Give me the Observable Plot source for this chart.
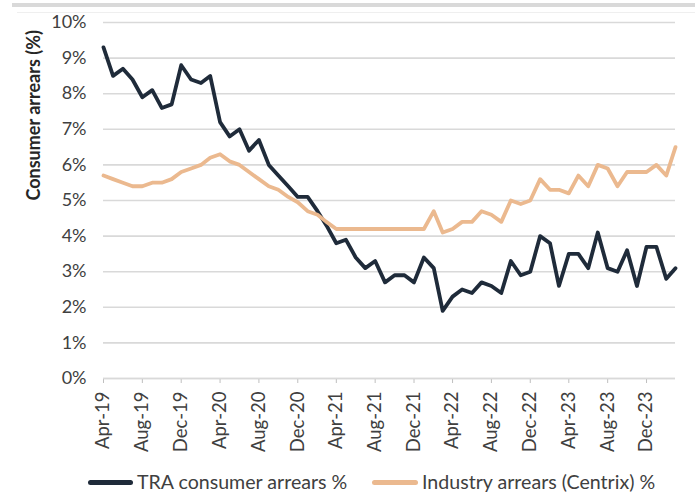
<!DOCTYPE html>
<html><head><meta charset="utf-8">
<script src="https://cdn.jsdelivr.net/npm/d3@7"></script>
<script src="https://cdn.jsdelivr.net/npm/@observablehq/plot@0.6"></script>
<style>
html,body{margin:0;padding:0;background:#fff;}
body{font-family:Lato,"Noto Sans",sans-serif;width:695px;height:496px;overflow:hidden;position:relative;}
#legend{position:relative;height:36px;font-size:19.6px;color:#404040;}
.item{position:absolute;top:9px;height:26px;line-height:26px;display:flex;align-items:center;white-space:nowrap;}
.sw{display:inline-block;height:5px;border-radius:3px;margin-right:4px;}
.topbar{position:absolute;left:12px;right:0;top:3px;height:4px;background:#d9d9d9;}
.topline{position:absolute;left:17px;right:0;top:12px;height:1px;background:#efefef;}
</style></head>
<body><div class="topbar"></div><div class="topline"></div><div id="chart"></div><div id="legend"></div>
<script>
// ---- data ----
const startMonth = "2019-04-01";
const traArrears = [9.3,8.5,8.7,8.4,7.9,8.1,7.6,7.7,8.8,8.4,8.3,8.5,7.2,6.8,7.0,6.4,6.7,6.0,5.7,5.4,
  5.1,5.1,4.7,4.3,3.8,3.9,3.4,3.1,3.3,2.7,2.9,2.9,2.7,3.4,3.1,1.9,2.3,2.5,2.4,2.7,
  2.6,2.4,3.3,2.9,3.0,4.0,3.8,2.6,3.5,3.5,3.1,4.1,3.1,3.0,3.6,2.6,3.7,3.7,2.8,3.1];
const centrixArrears = [5.7,5.6,5.5,5.4,5.4,5.5,5.5,5.6,5.8,5.9,6.0,6.2,6.3,6.1,6.0,5.8,5.6,5.4,5.3,5.1,
  4.95,4.7,4.6,4.4,4.2,4.2,4.2,4.2,4.2,4.2,4.2,4.2,4.2,4.2,4.7,4.1,4.2,4.4,4.4,4.7,
  4.6,4.4,5.0,4.9,5.0,5.6,5.3,5.3,5.2,5.7,5.4,6.0,5.9,5.4,5.8,5.8,5.8,6.0,5.7,6.5];
const yTicks = [0,1,2,3,4,5,6,7,8,9,10];
const xTickMonths = ["2019-04-01","2019-08-01","2019-12-01","2020-04-01","2020-08-01","2020-12-01",
  "2021-04-01","2021-08-01","2021-12-01","2022-04-01","2022-08-01","2022-12-01","2023-04-01","2023-08-01","2023-12-01"];
const seriesNames = ["TRA consumer arrears %","Industry arrears (Centrix) %"];
const seriesColors = ["#1f2b3a","#ebb98f"];
const yTitle = "Consumer arrears (%)";

// ---- build ----
const start = new Date(startMonth + "T00:00:00Z");
const toRows = (arr, name) => arr.map((v, i) => ({date: d3.utcMonth.offset(start, i), value: v, series: name}));
const traRows = toRows(traArrears, seriesNames[0]);
const cenRows = toRows(centrixArrears, seriesNames[1]);
const xTicks = xTickMonths.map(s => new Date(s + "T00:00:00Z"));
const lastDate = traRows[traRows.length - 1].date;

const chart = Plot.plot({
  width: 695, height: 460,
  marginLeft: 103, marginRight: 20, marginTop: 22, marginBottom: 82,
  style: {fontFamily: "Lato, 'Noto Sans', sans-serif", fontSize: "18px", background: "transparent"},
  x: {type: "utc", domain: [start, lastDate]},
  y: {domain: [0, 10]},
  marks: [
    Plot.gridY(yTicks, {stroke: "#d9d9d9", strokeOpacity: 1, strokeWidth: 1.6}),
    Plot.axisY(yTicks, {tickSize: 0, tickPadding: 17, tickFormat: d => d + "%", label: null, fill: "#404040", fontSize: 18}),
    Plot.axisX(xTicks, {tickRotate: -90, tickFormat: d3.utcFormat("%b-%y"), tickSize: 5, tickPadding: 8,
      stroke: "#bfbfbf", fill: "#404040", label: null, fontSize: 18.5}),
    Plot.ruleY([0], {stroke: "#d9d9d9", strokeWidth: 1.6}),
    Plot.text([yTitle], {frameAnchor: "left", dx: -69, rotate: -90, text: d => d,
      fontWeight: "bold", fontSize: 18, fill: "#262626"}),
    Plot.lineY(traRows, {x: "date", y: "value", stroke: seriesColors[0], strokeWidth: 3.8, strokeLinejoin: "round"}),
    Plot.lineY(cenRows, {x: "date", y: "value", stroke: seriesColors[1], strokeWidth: 3.8, strokeLinejoin: "round"})
  ]
});
document.getElementById("chart").append(chart);

// legend
const legend = document.getElementById("legend");
const legendPos = [{left: 88, w: 45}, {left: 372, w: 46}];
seriesNames.forEach((name, i) => {
  const it = document.createElement("div");
  it.className = "item";
  it.style.left = legendPos[i].left + "px";
  const sw = document.createElement("span");
  sw.className = "sw";
  sw.style.width = legendPos[i].w + "px";
  sw.style.background = seriesColors[i];
  it.append(sw, document.createTextNode(name));
  legend.append(it);
});
</script></body></html>
